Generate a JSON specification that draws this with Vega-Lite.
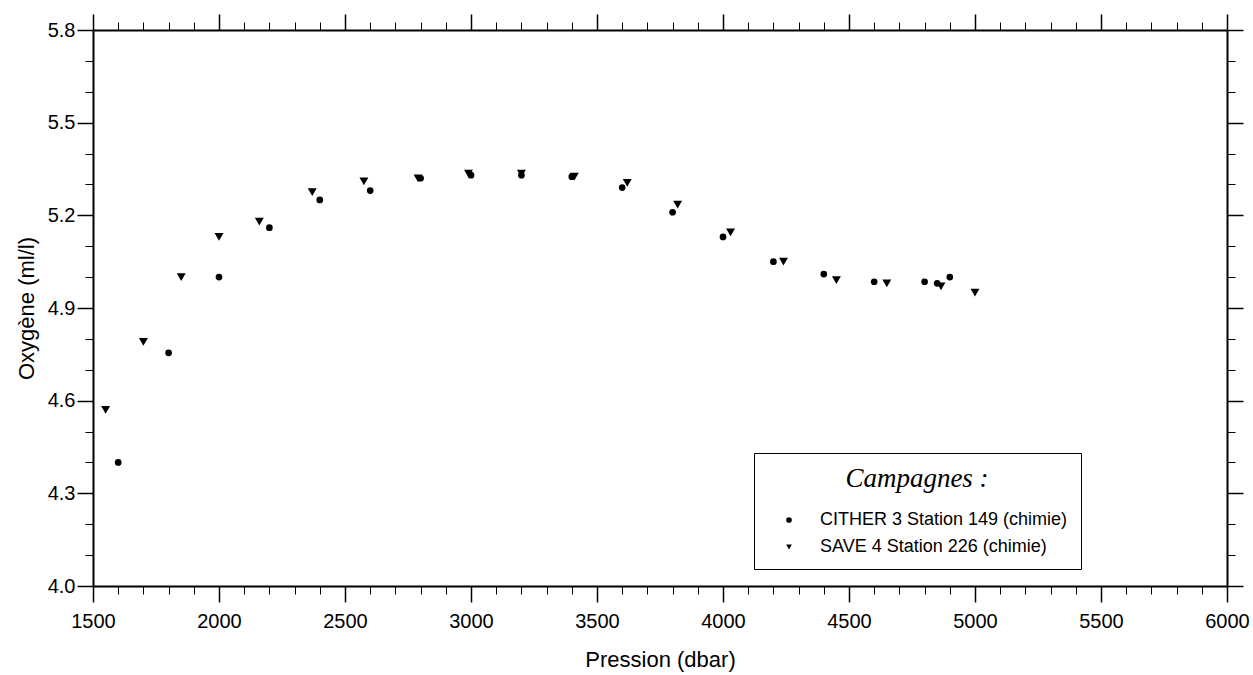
{
  "$schema": "https://vega.github.io/schema/vega-lite/v6.json",
  "width": 1134,
  "height": 556,
  "autosize": {"type": "none"},
  "padding": {"left": 93, "top": 30, "right": 26, "bottom": 89},
  "background": "white",
  "config": {
    "view": {"stroke": null},
    "font": "Liberation Sans",
    "axis": {
      "domainColor": "black",
      "tickColor": "black",
      "labelColor": "black",
      "titleColor": "black",
      "labelFont": "Liberation Sans",
      "titleFont": "Liberation Sans",
      "titleFontWeight": "normal",
      "labelFontSize": 20,
      "titleFontSize": 22,
      "labelFlush": false,
      "labelOverlap": false,
      "grid": false,
      "domainWidth": 2,
      "tickWidth": 1.5
    },
    "legend": {
      "orient": "none", "legendX": 661, "legendY": 423,
      "titleFont": "Liberation Serif", "titleFontStyle": "italic", "titleFontWeight": "normal",
      "titleFontSize": 27, "titleColor": "black", "titleAnchor": "middle", "titleAlign": "center",
      "titlePadding": 18,
      "labelFont": "Liberation Sans", "labelFontSize": 18, "labelColor": "black", "labelOffset": 22,
      "labelLimit": 600,
      "symbolSize": 32, "symbolFillColor": "black", "symbolStrokeColor": "black", "symbolOffset": 13,
      "rowPadding": 9, "padding": 13,
      "strokeColor": "black", "fillColor": "white"
    }
  },
  "data": {
    "values": [
      {"campagne": "CITHER 3 Station 149 (chimie)", "pression": 1600, "oxygene": 4.40},
      {"campagne": "CITHER 3 Station 149 (chimie)", "pression": 1800, "oxygene": 4.755},
      {"campagne": "CITHER 3 Station 149 (chimie)", "pression": 2000, "oxygene": 5.00},
      {"campagne": "CITHER 3 Station 149 (chimie)", "pression": 2200, "oxygene": 5.16},
      {"campagne": "CITHER 3 Station 149 (chimie)", "pression": 2400, "oxygene": 5.25},
      {"campagne": "CITHER 3 Station 149 (chimie)", "pression": 2600, "oxygene": 5.28},
      {"campagne": "CITHER 3 Station 149 (chimie)", "pression": 2800, "oxygene": 5.32},
      {"campagne": "CITHER 3 Station 149 (chimie)", "pression": 3000, "oxygene": 5.33},
      {"campagne": "CITHER 3 Station 149 (chimie)", "pression": 3200, "oxygene": 5.33},
      {"campagne": "CITHER 3 Station 149 (chimie)", "pression": 3400, "oxygene": 5.325},
      {"campagne": "CITHER 3 Station 149 (chimie)", "pression": 3600, "oxygene": 5.29},
      {"campagne": "CITHER 3 Station 149 (chimie)", "pression": 3800, "oxygene": 5.21},
      {"campagne": "CITHER 3 Station 149 (chimie)", "pression": 4000, "oxygene": 5.13},
      {"campagne": "CITHER 3 Station 149 (chimie)", "pression": 4200, "oxygene": 5.05},
      {"campagne": "CITHER 3 Station 149 (chimie)", "pression": 4400, "oxygene": 5.01},
      {"campagne": "CITHER 3 Station 149 (chimie)", "pression": 4600, "oxygene": 4.985},
      {"campagne": "CITHER 3 Station 149 (chimie)", "pression": 4800, "oxygene": 4.985},
      {"campagne": "CITHER 3 Station 149 (chimie)", "pression": 4850, "oxygene": 4.98},
      {"campagne": "CITHER 3 Station 149 (chimie)", "pression": 4900, "oxygene": 5.00},
      {"campagne": "SAVE 4 Station 226 (chimie)", "pression": 1550, "oxygene": 4.57},
      {"campagne": "SAVE 4 Station 226 (chimie)", "pression": 1700, "oxygene": 4.79},
      {"campagne": "SAVE 4 Station 226 (chimie)", "pression": 1850, "oxygene": 5.00},
      {"campagne": "SAVE 4 Station 226 (chimie)", "pression": 2000, "oxygene": 5.13},
      {"campagne": "SAVE 4 Station 226 (chimie)", "pression": 2160, "oxygene": 5.18},
      {"campagne": "SAVE 4 Station 226 (chimie)", "pression": 2370, "oxygene": 5.275},
      {"campagne": "SAVE 4 Station 226 (chimie)", "pression": 2575, "oxygene": 5.31},
      {"campagne": "SAVE 4 Station 226 (chimie)", "pression": 2790, "oxygene": 5.32},
      {"campagne": "SAVE 4 Station 226 (chimie)", "pression": 2990, "oxygene": 5.335},
      {"campagne": "SAVE 4 Station 226 (chimie)", "pression": 3200, "oxygene": 5.335},
      {"campagne": "SAVE 4 Station 226 (chimie)", "pression": 3410, "oxygene": 5.325},
      {"campagne": "SAVE 4 Station 226 (chimie)", "pression": 3620, "oxygene": 5.305},
      {"campagne": "SAVE 4 Station 226 (chimie)", "pression": 3820, "oxygene": 5.235},
      {"campagne": "SAVE 4 Station 226 (chimie)", "pression": 4030, "oxygene": 5.145},
      {"campagne": "SAVE 4 Station 226 (chimie)", "pression": 4240, "oxygene": 5.05},
      {"campagne": "SAVE 4 Station 226 (chimie)", "pression": 4450, "oxygene": 4.99},
      {"campagne": "SAVE 4 Station 226 (chimie)", "pression": 4650, "oxygene": 4.98},
      {"campagne": "SAVE 4 Station 226 (chimie)", "pression": 4865, "oxygene": 4.97},
      {"campagne": "SAVE 4 Station 226 (chimie)", "pression": 5000, "oxygene": 4.95}
    ]
  },
  "layer": [
    {
      "transform": [{"filter": "datum.campagne === 'CITHER 3 Station 149 (chimie)'"}],
      "mark": {"type": "point", "filled": true, "color": "black", "opacity": 1, "size": 45},
      "encoding": {
        "x": {
          "field": "pression", "type": "quantitative",
          "scale": {"domain": [1500, 6000], "nice": false, "zero": false},
          "axis": {
            "orient": "bottom", "title": "Pression (dbar)", "format": "d",
            "values": [1500, 2000, 2500, 3000, 3500, 4000, 4500, 5000, 5500, 6000],
            "tickSize": 16, "labelPadding": 9, "titlePadding": 18
          }
        },
        "y": {
          "field": "oxygene", "type": "quantitative",
          "scale": {"domain": [4.0, 5.8], "nice": false, "zero": false},
          "axis": {
            "orient": "left", "title": "Oxygène (ml/l)", "format": ".1f",
            "values": [4.0, 4.3, 4.6, 4.9, 5.2, 5.5, 5.8],
            "tickSize": 16, "labelPadding": 2, "titlePadding": 9
          }
        },
        "shape": {
          "field": "campagne", "type": "nominal",
          "scale": {
            "domain": ["CITHER 3 Station 149 (chimie)", "SAVE 4 Station 226 (chimie)"],
            "range": ["circle", "triangle-down"]
          },
          "legend": {
            "title": "Campagnes :",
            "encode": {"legend": {"update": {"strokeWidth": {"value": 2}, "width": {"value": 374}}}}
          }
        }
      }
    },
    {
      "transform": [{"filter": "datum.campagne === 'SAVE 4 Station 226 (chimie)'"}],
      "mark": {"type": "point", "filled": true, "color": "black", "opacity": 1, "size": 80},
      "encoding": {
        "x": {"field": "pression", "type": "quantitative", "axis": null},
        "y": {"field": "oxygene", "type": "quantitative", "axis": null},
        "shape": {
          "field": "campagne", "type": "nominal",
          "legend": {
            "title": "Campagnes :",
            "encode": {"legend": {"update": {"strokeWidth": {"value": 2}, "width": {"value": 374}}}}
          }
        }
      }
    },
    {
      "mark": {"type": "point", "opacity": 0},
      "encoding": {
        "x": {
          "field": "pression", "type": "quantitative",
          "axis": {
            "orient": "bottom", "title": null, "labels": false, "domain": false, "tickSize": 8, "tickWidth": 1,
            "values": [1600, 1700, 1800, 1900, 2100, 2200, 2300, 2400, 2600, 2700, 2800, 2900, 3100, 3200, 3300, 3400, 3600, 3700, 3800, 3900, 4100, 4200, 4300, 4400, 4600, 4700, 4800, 4900, 5100, 5200, 5300, 5400, 5600, 5700, 5800, 5900]
          }
        },
        "y": {
          "field": "oxygene", "type": "quantitative",
          "axis": {
            "orient": "left", "title": null, "labels": false, "domain": false, "tickSize": 8, "tickWidth": 1,
            "values": [4.1, 4.2, 4.4, 4.5, 4.7, 4.8, 5.0, 5.1, 5.3, 5.4, 5.6, 5.7]
          }
        }
      }
    },
    {
      "mark": {"type": "point", "opacity": 0},
      "encoding": {
        "x": {
          "field": "pression", "type": "quantitative",
          "axis": {
            "orient": "top", "title": null, "labels": false, "tickSize": 16,
            "values": [1500, 2000, 2500, 3000, 3500, 4000, 4500, 5000, 5500, 6000]
          }
        },
        "y": {
          "field": "oxygene", "type": "quantitative",
          "axis": {
            "orient": "right", "title": null, "labels": false, "tickSize": 16,
            "values": [4.0, 4.3, 4.6, 4.9, 5.2, 5.5, 5.8]
          }
        }
      }
    },
    {
      "mark": {"type": "point", "opacity": 0},
      "encoding": {
        "x": {
          "field": "pression", "type": "quantitative",
          "axis": {
            "orient": "top", "title": null, "labels": false, "domain": false, "tickSize": 8, "tickWidth": 1,
            "values": [1600, 1700, 1800, 1900, 2100, 2200, 2300, 2400, 2600, 2700, 2800, 2900, 3100, 3200, 3300, 3400, 3600, 3700, 3800, 3900, 4100, 4200, 4300, 4400, 4600, 4700, 4800, 4900, 5100, 5200, 5300, 5400, 5600, 5700, 5800, 5900]
          }
        },
        "y": {
          "field": "oxygene", "type": "quantitative",
          "axis": {
            "orient": "right", "title": null, "labels": false, "domain": false, "tickSize": 8, "tickWidth": 1,
            "values": [4.1, 4.2, 4.4, 4.5, 4.7, 4.8, 5.0, 5.1, 5.3, 5.4, 5.6, 5.7]
          }
        }
      }
    }
  ],
  "resolve": {"axis": {"x": "independent", "y": "independent"}}
}
